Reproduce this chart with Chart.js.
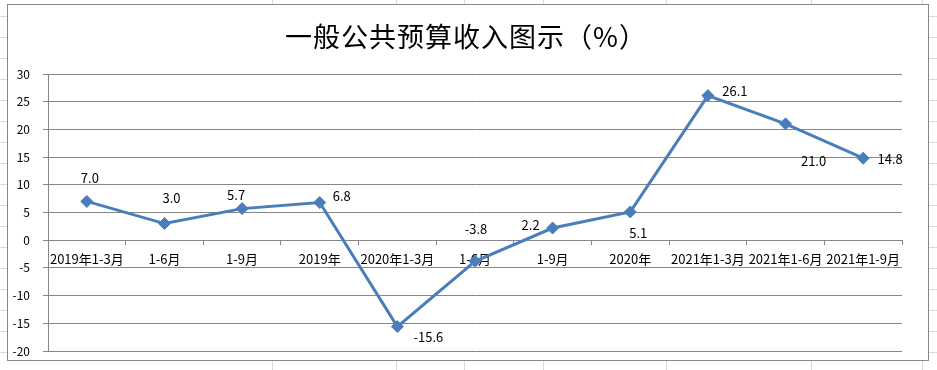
<!DOCTYPE html>
<html>
<head>
<meta charset="utf-8">
<script src="https://cdn.jsdelivr.net/npm/chart.js@4"></script>
<style>
  html, body { margin: 0; padding: 0; background: #fff; }
  #sheet {
    position: absolute; left: 0; top: 0; width: 937px; height: 370px; overflow: hidden;
    background-image: repeating-linear-gradient(to bottom, transparent 0px, transparent 16px, #d9d9d9 16px, #d9d9d9 17px, transparent 17px, transparent 21px);
  }
  .vl { position: absolute; top: 0; width: 1px; height: 370px; background: #d9d9d9; }
  #box {
    position: absolute; left: 7px; top: 4px; width: 922px; height: 357px;
    box-sizing: border-box; border: 1px solid #868686; background: #fff;
  }
  #wrap { position: absolute; left: 0; top: 0; width: 937px; height: 370px; }
</style>
</head>
<body>
<div id="sheet">
  <div class="vl" style="left:272px"></div>
  <div class="vl" style="left:396px"></div>
  <div class="vl" style="left:464px"></div>
  <div class="vl" style="left:543px"></div>
  <div class="vl" style="left:666px"></div>
  <div class="vl" style="left:811px"></div>
  <div class="vl" style="left:922px"></div>
</div>
<div id="box"></div>
<div id="wrap"><canvas id="c" width="937" height="370"></canvas></div>
<script>
const categories = ['2019年1-3月', '1-6月', '1-9月', '2019年', '2020年1-3月', '1-6月', '1-9月', '2020年', '2021年1-3月', '2021年1-6月', '2021年1-9月'];
const values = [7.0, 3.0, 5.7, 6.8, -15.6, -3.8, 2.2, 5.1, 26.1, 21.0, 14.8];
const yTicks = { min: -20, max: 30, step: 5 };
const titleText = '一般公共预算收入图示（%）';

// label placement offsets (style only, px relative to each point)
const labelOffsets = [[3,-23],[7,-26],[-6,-14],[22,-6],[31,10],[1,-32],[-22,-3],[8,21],[27,-5],[28,37],[27,1]];

const FONT = '"Noto Sans CJK SC", "Noto Sans", sans-serif';

const titleDraw = {
  id: 'titleDraw',
  afterDraw(chart) {
    const ctx = chart.ctx;
    ctx.save();
    ctx.font = '27px ' + FONT;
    try { ctx.letterSpacing = '1px'; } catch (e) {}
    ctx.fillStyle = '#000';
    ctx.textAlign = 'center';
    ctx.textBaseline = 'middle';
    ctx.fillText(titleText, 466, 37);
    ctx.restore();
  }
};

const dataLabels = {
  id: 'dataLabels',
  afterDatasetsDraw(chart) {
    const ctx = chart.ctx;
    const meta = chart.getDatasetMeta(0);
    ctx.save();
    ctx.font = '13px ' + FONT;
    ctx.fillStyle = '#000';
    ctx.textAlign = 'center';
    ctx.textBaseline = 'middle';
    meta.data.forEach((pt, i) => {
      const off = labelOffsets[i] || [0, -20];
      ctx.fillText(values[i].toFixed(1), pt.x + off[0], pt.y + off[1]);
    });
    ctx.restore();
  }
};

new Chart(document.getElementById('c'), {
  type: 'line',
  data: {
    labels: categories,
    datasets: [{
      data: values,
      borderColor: '#4A7EBB',
      backgroundColor: '#4A7EBB',
      borderWidth: 3,
      pointStyle: 'rectRot',
      pointRadius: 6,
      pointHoverRadius: 6,
      pointBackgroundColor: '#4A7EBB',
      pointBorderColor: '#4A7EBB',
      pointBorderWidth: 1,
      tension: 0
    }]
  },
  options: {
    responsive: false,
    animation: false,
    events: [],
    layout: { padding: { left: 8, right: 35, top: 74, bottom: 19 } },
    plugins: {
      legend: { display: false },
      tooltip: { enabled: false },
      title: { display: false }
    },
    scales: {
      x: {
        type: 'category',
        offset: true,
        position: { y: 0 },
        grid: { offset: true, drawOnChartArea: false, drawTicks: true, tickLength: 4, color: '#868686', lineWidth: 1 },
        border: { display: true, color: '#868686', width: 1 },
        ticks: { color: '#000', font: { family: FONT, size: 13 }, padding: 7, maxRotation: 0, autoSkip: false }
      },
      y: {
        min: yTicks.min,
        max: yTicks.max,
        afterFit(scale) { scale.width = 40; scale.paddingTop = 0; scale.paddingBottom = 0; },
        grid: { color: '#868686', lineWidth: 1, tickLength: 5 },
        border: { display: true, color: '#868686', width: 1 },
        ticks: { stepSize: yTicks.step, color: '#000', font: { family: FONT, size: 12 }, padding: 13 }
      }
    }
  },
  plugins: [dataLabels, titleDraw]
});
</script>
</body>
</html>
